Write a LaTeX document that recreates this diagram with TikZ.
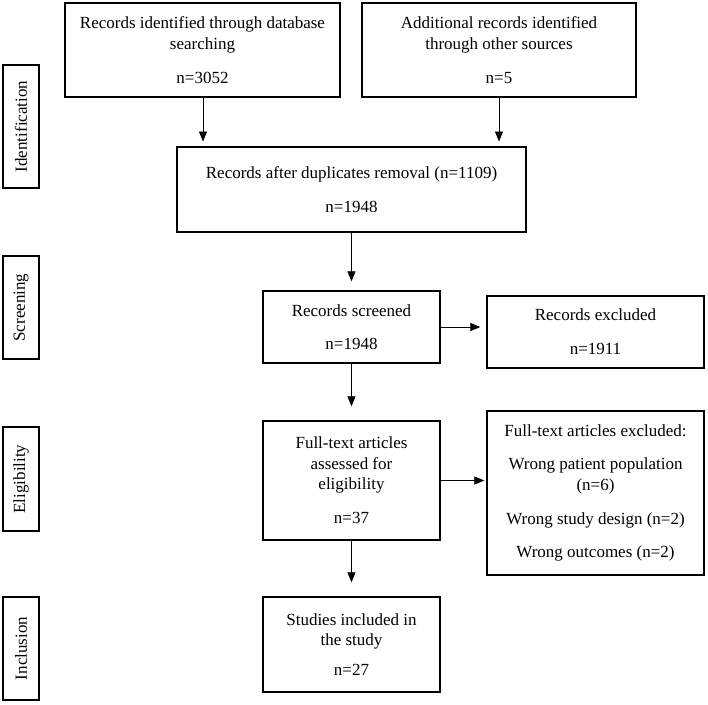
\documentclass[tikz,border=0pt]{standalone}
\usepackage{fontspec}
\setmainfont{Liberation Serif}
\usetikzlibrary{arrows.meta}
\begin{document}
\begin{tikzpicture}[x=1pt,y=-1pt,
  box/.style={draw, line width=1.4pt, inner sep=0pt, align=center,
    font=\fontsize{17}{20.5}\selectfont},
  lab/.style={draw, line width=2pt, inner sep=0pt, rotate=90,
    minimum height=36pt, font=\fontsize{17}{20.5}\selectfont},
  arr/.style={line width=0.8pt, -{Triangle[length=10pt,width=8pt]}}]
\useasboundingbox (0,0) rectangle (708,704);
% stage labels
\node[lab, minimum width=123pt] (l1) at (21,126.5) {Identification};
\node[lab, minimum width=103pt] (l2) at (21,307.5) {Screening};
\node[lab, minimum width=104pt] (l3) at (21,479) {Eligibility};
\node[lab, minimum width=103pt] (l4) at (21,648.5) {Inclusion};
% boxes
\node[box, minimum width=275pt, minimum height=94pt] (b1) at (202.5,50)
  {Records identified through database\\ searching\\[13.5pt] n=3052};
\node[box, minimum width=274pt, minimum height=94pt] (b2) at (499,50)
  {Additional records identified\\ through other sources\\[13.5pt] n=5};
\node[box, minimum width=349pt, minimum height=85pt] (dup) at (351.5,189.5)
  {Records after duplicates removal (n=1109)\\[13.5pt] n=1948};
\node[box, minimum width=177pt, minimum height=72pt] (scr) at (351.5,327)
  {Records screened\\[12pt] n=1948};
\node[box, minimum width=217pt, minimum height=72pt] (exc) at (595.5,332)
  {Records excluded\\[13.5pt] n=1911};
\node[box, minimum width=177pt, minimum height=119pt] (ft) at (351.5,480.5)
  {Full-text articles\\ assessed for\\ eligibility\\[13.5pt] n=37};
\node[box, minimum width=217pt, minimum height=164pt] (fte) at (595.5,493)
  {Full-text articles excluded:\\[12.5pt] Wrong patient population\\ (n=6)\\[13.5pt]
   Wrong study design (n=2)\\[13pt] Wrong outcomes (n=2)};
\node[box, minimum width=177pt, minimum height=95pt] (inc) at (351.5,644.5)
  {Studies included in\\ the study\\[9.5pt] n=27};
% connectors
\coordinate (t1) at (203,141.5);
\coordinate (t2) at (499,141.5);
\draw[arr] (b1.south -| t1) -- (t1);
\draw[arr] (b2.south -| t2) -- (t2);
\draw[arr, shorten >=9pt] (dup.south -| scr.north) -- (scr.north);
\draw[arr, shorten >=6pt] (scr.east) -- (scr.east -| exc.west);
\draw[arr, shorten >=14pt] (scr.south) -- (ft.north);
\draw[arr, shorten >=2pt] (ft.east) -- (ft.east -| fte.west);
\draw[arr, shorten >=14pt] (ft.south) -- (inc.north);
\end{tikzpicture}
\end{document}
